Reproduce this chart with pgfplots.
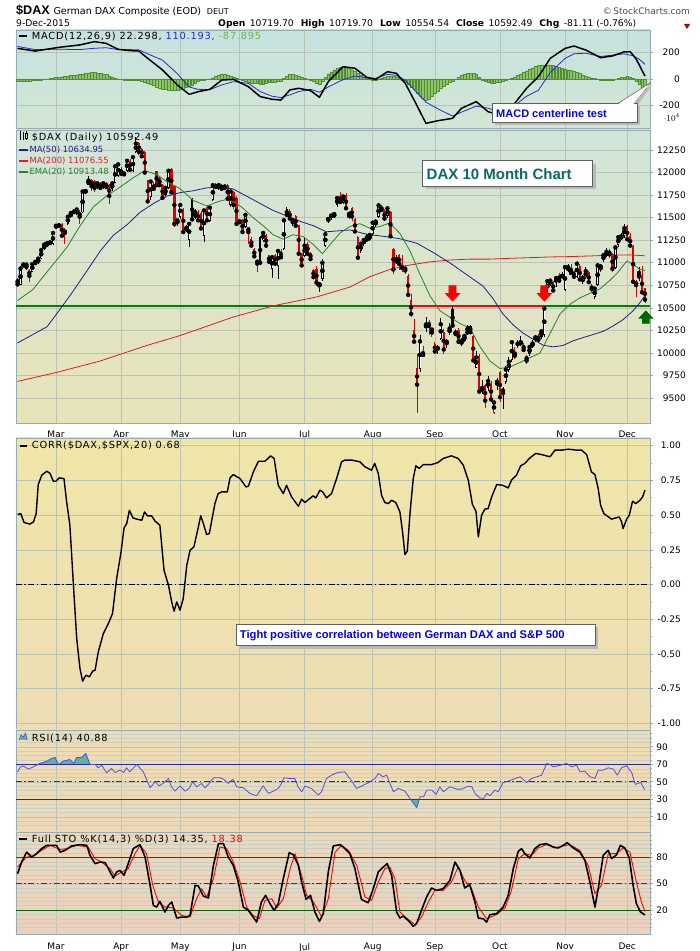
\documentclass[border=0pt]{standalone}
\usepackage{pgfplots}
\pgfplotsset{compat=1.18}
\usepackage{pgfplotstable}
\usepackage{fontspec}
\setmainfont{DejaVu Sans}
\newfontfamily\dvls{DejaVu Sans}[LetterSpace=8]
\newfontfamily\ar{Liberation Sans}

\definecolor{axisc}{RGB}{150,172,178}
\definecolor{gridc}{RGB}{186,195,180}
\definecolor{macdtop}{RGB}{198,226,224}
\definecolor{macdbot}{RGB}{210,230,212}
\definecolor{pricetop}{RGB}{208,229,218}
\definecolor{pricebot}{RGB}{233,228,184}
\definecolor{corrtop}{RGB}{240,230,168}
\definecolor{corrbot}{RGB}{237,221,180}
\definecolor{rsitop}{RGB}{238,221,180}
\definecolor{rsibot}{RGB}{237,217,184}
\definecolor{stotop}{RGB}{237,216,186}
\definecolor{stobot}{RGB}{234,210,190}
\definecolor{ma50}{RGB}{30,30,140}
\definecolor{ma200}{RGB}{225,30,30}
\definecolor{ema20}{RGB}{40,130,40}
\definecolor{candred}{RGB}{222,0,0}
\definecolor{histf}{RGB}{140,198,100}
\definecolor{histd}{RGB}{80,140,50}
\definecolor{histtxt}{RGB}{110,180,80}
\definecolor{sigblue}{RGB}{40,40,210}
\definecolor{rsiblue}{RGB}{80,80,225}
\definecolor{rsiline}{RGB}{40,40,170}
\definecolor{rsifill}{RGB}{100,175,160}
\definecolor{stogreen}{RGB}{0,100,0}
\definecolor{teal2}{RGB}{10,105,105}

\pgfplotsset{
  panel/.style={
    scale only axis, width=634pt, anchor=south west,
    xmin=-0.51, xmax=213.7,
    axis line style={draw=axisc, line width=0.8pt},
    xtick={13,35,55,75,97,120,141,163,185,206},
    xticklabels={},
    xtick style={draw=none},
    xmajorgrids, ymajorgrids,
    major grid style={gridc, line width=0.5pt},
    ytick pos=right, yticklabel pos=right,
    tick align=outside, major tick length=3pt, minor tick length=2pt,
    ytick style={draw=axisc, line width=0.6pt},
    ticklabel style={font=\fontsize{9}{10}\selectfont},
    yticklabel style={anchor=east, inner sep=0pt},
    every axis plot/.append style={line join=round},
  },
  monthlabels/.style={xticklabels={Mar,Apr,May,Jun,Jul,Aug,Sep,Oct,Nov,Dec},
    xticklabel style={anchor=north, inner sep=0pt, yshift=#1}},
  wick/.style={only marks, mark=none, error bars/.cd, y dir=both, y explicit, error mark=none,
    error bar style={#1, line width=0.8pt}},
  body/.style={only marks, mark=none, error bars/.cd, y dir=both, y explicit, error mark=none,
    error bar style={#1, line width=2.3pt}},
  inner/.style={only marks, mark=none, error bars/.cd, y dir=both, y explicit, error mark=none,
    error bar style={white, line width=0.9pt}},
  /pgfplots/table/wicktab/.style={x=d, y=C, y error plus expr={\thisrow{H}-\thisrow{C}+0.5}, y error minus expr={\thisrow{C}-\thisrow{L}+0.5}},
  /pgfplots/table/bodytab/.style={x=d, y expr={(\thisrow{O}+\thisrow{C})/2}, y error expr={abs(\thisrow{O}-\thisrow{C})/2+3}},
  /pgfplots/table/innertab/.style={x=d, y expr={(\thisrow{O}+\thisrow{C})/2}, y error expr={max(abs(\thisrow{O}-\thisrow{C})/2-7,0.5)}},
}

% hollow up candles (close above open)
\pgfplotstableread{
d O H L C
1 10760 10960 10750 10935
3 10935 10995 10925 10980
5 10905 11000 10895 10985
6 10985 11030 10975 11010
7 11000 11060 10990 11045
8 11050 11150 11040 11140
9 11150 11230 11140 11200
10 11190 11240 11180 11215
11 11215 11245 11200 11225
12 11210 11345 11200 11330
13 11395 11430 11380 11410
14 11405 11440 11395 11415
17 11430 11530 11420 11510
18 11510 11570 11500 11550
19 11560 11590 11540 11565
20 11545 11605 11530 11590
22 11560 11800 11550 11790
23 11785 11810 11770 11795
24 11870 11960 11860 11910
27 11830 11900 11820 11880
29 11830 11895 11820 11880
32 11820 11895 11800 11880
33 11890 12080 11880 12070
34 11965 12100 11950 12090
37 12020 12145 12010 12130
39 12020 12180 12010 12170
40 12230 12390 12220 12320
45 11730 11910 11700 11900
50 11750 11840 11740 11830
51 11830 12030 11820 12020
54 11430 11480 11410 11470
55 11510 11660 11480 11640
58 11260 11440 11170 11430
60 11500 11590 11480 11560
63 11300 11600 11230 11580
65 11470 11620 11450 11610
66 11700 11870 11690 11860
68 11820 11880 11810 11860
72 11640 11800 11620 11790
77 11400 11540 11380 11530
83 11250 11350 11230 11330
86 10930 11080 10830 11060
88 10970 11140 10820 11130
90 11160 11490 11140 11470
93 11430 11500 11410 11470
97 11080 11280 11060 11190
102 10740 10790 10680 10760
103 10820 11040 10800 11000
104 11190 11340 11170 11316
105 11470 11500 11440 11485
107 11510 11560 11500 11539
108 11640 11730 11620 11717
110 11670 11750 11650 11735
116 11130 11230 11110 11211
117 11210 11270 11190 11250
119 11260 11330 11240 11308
120 11320 11460 11300 11444
121 11420 11480 11400 11456
122 11510 11660 11500 11636
125 11520 11620 11500 11604
136 9830 10200 9790 10128
138 10280 10400 10230 10315
143 10160 10390 10140 10318
146 10220 10330 10200 10271
150 10100 10160 10080 10131
151 10140 10200 10120 10188
155 9840 10020 9830 9950
157 9580 9700 9550 9612
159 9610 9740 9580 9688
165 9680 9850 9660 9815
166 9810 9950 9790 9902
167 9920 10140 9900 10119
170 10100 10190 10080 10118
173 9990 10080 9970 10065
174 10080 10140 10060 10104
177 10180 10260 10160 10238
178 10200 10510 10180 10492
179 10680 10810 10660 10795
180 10760 10830 10740 10801
182 10780 10840 10730 10831
185 10700 10960 10690 10951
186 10920 10980 10900 10951
189 10850 11020 10830 10988
191 10790 10860 10770 10833
192 10840 10950 10820 10907
195 10620 10730 10600 10713
196 10760 10980 10740 10971
198 11030 11110 11010 11085
199 11080 11160 11060 11120
202 10950 11180 10930 11170
203 11200 11300 11180 11284
204 11270 11330 11250 11293
205 11300 11430 11280 11382
210 10820 10950 10800 10886
}\candW

% filled black candles
\pgfplotstableread{
d O H L C
2 10990 11010 10950 10970
57 11400 11420 11340 11370
59 11700 11720 11470 11480
70 11860 11870 11810 11830
75 11470 11480 11430 11450
82 11280 11300 10980 11000
91 11590 11620 11510 11530
106 11530 11540 11470 11517
118 11300 11320 11230 11257
128 11060 11080 10990 11015
142 10060 10090 9990 10048
145 10140 10150 10060 10108
147 10480 10520 10280 10303
152 10300 10310 10200 10227
153 10300 10310 10210 10229
162 9700 9720 9590 9660
164 9610 9620 9380 9553
169 10110 10140 10050 10097
175 10180 10200 10120 10165
184 10860 10900 10820 10850
}\candB

% filled red candles
\pgfplotstableread{
d O H L C
0 10820 10830 10740 10760
4 10915 10930 10790 10855
15 11430 11445 11285 11300
16 11360 11380 11210 11330
21 11560 11580 11430 11510
25 11910 11930 11800 11850
26 11900 11920 11790 11830
28 11880 11900 11810 11830
30 11880 11895 11830 11840
31 11860 11870 11650 11740
35 12040 12060 11970 11985
36 12000 12010 11960 11980
38 12130 12150 12020 12030
41 12320 12340 12200 12230
42 12260 12270 12170 12180
43 12220 12240 11990 12000
44 11910 11920 11670 11680
46 11870 11900 11800 11820
47 12010 12020 11850 11860
48 11940 11960 11850 11860
49 11860 11870 11700 11720
52 12040 12050 11770 11780
53 11850 11860 11400 11430
56 11590 11610 11330 11340
61 11560 11580 11450 11470
62 11550 11570 11360 11380
64 11620 11640 11450 11470
67 11860 11880 11820 11840
69 11860 11870 11800 11820
71 11860 11870 11690 11710
73 11780 11800 11600 11640
74 11720 11740 11410 11430
76 11470 11480 11320 11340
78 11390 11400 11210 11340
79 11260 11280 11170 11190
80 11150 11160 11050 11070
81 11030 11040 10900 10990
84 11300 11320 11170 11190
85 11080 11090 10990 11010
87 11080 11100 10970 10990
89 11130 11150 11040 11060
92 11570 11600 11470 11490
94 11510 11530 11400 11410
95 11410 11420 11080 11100
96 11100 11110 10950 10970
98 11210 11230 11080 11100
99 11110 11120 11020 11040
100 10920 10930 10830 10840
101 10930 10960 10740 10780
109 11740 11780 11650 11673
111 11750 11770 11580 11604
112 11560 11570 11480 11520
113 11600 11620 11460 11512
114 11480 11500 11340 11347
115 11285 11300 11040 11056
123 11620 11640 11560 11585
124 11570 11590 11460 11490
126 11560 11570 11280 11293
127 11150 11160 10880 10925
129 11080 11100 10920 10985
130 10960 11090 10900 10940
131 10950 10970 10880 10915
132 10850 10870 10620 10644
133 10580 10650 10400 10432
134 10250 10370 10110 10124
135 9830 9990 9338 9648
139 10340 10360 10200 10298
141 10100 10120 9990 10016
144 10230 10260 9990 10038
148 10240 10260 10190 10210
149 10250 10280 10100 10123
154 10180 10200 9900 9916
156 9960 9990 9560 9571
158 9640 9660 9390 9470
160 9660 9690 9460 9484
163 9780 9800 9460 9509
171 10090 10110 10010 10032
172 9960 9980 9880 9915
176 10190 10210 10120 10147
181 10780 10800 10680 10692
183 10860 10880 10780 10801
187 10950 10990 10870 10887
188 10900 10910 10820 10845
190 10960 10980 10800 10815
193 10890 10910 10760 10783
194 10740 10760 10680 10708
200 11130 11150 11050 11092
201 11090 11110 10900 10933
206 11400 11420 11230 11261
207 11290 11330 11160 11190
208 11180 11200 10760 10789
209 10790 10810 10620 10752
211 10860 10960 10640 10673
212 10720 10720 10555 10592
}\candR

% hollow red candles
\pgfplotstableread{
d O H L C
137 9960 10080 9950 9997
140 10200 10270 10180 10259
161 9340 9480 9320 9450
168 9950 10060 9930 9993
197 10920 10990 10900 10959
}\candRH

\begin{document}
\begin{tikzpicture}[x=1pt,y=1pt]

% ---------------- MACD ----------------
\begin{axis}[panel, at={(16pt,823pt)}, height=98pt,
  ymin=-370, ymax=370, ytick={-200,0,200}, yticklabels={-200,0,200},
  yticklabel style={xshift=27pt},
  axis background/.style={top color=macdtop, bottom color=macdbot}]
\addplot[ybar, bar width=0.92, fill=histf, draw=histd, line width=0.3pt] coordinates {
(0,-15)(1,-16)(2,-16)(3,-15)(4,-14)(5,-12)(6,-11)(7,-8)(8,-5)(9,-2)(10,1)(11,4)(12,8)(13,11)(14,14)
(15,17)(16,20)(17,23)(18,26)(19,29)(20,32)(21,35)(22,39)(23,43)(24,46)(25,48)(26,50)(27,47)(28,43)(29,38)(30,33)
(31,25)(32,17)(33,9)(34,2)(35,-2)(36,-5)(37,-7)(38,-8)(39,-8)(40,-9)(41,-9)(42,-16)(43,-25)(44,-34)
(45,-42)(46,-50)(47,-58)(48,-66)(49,-74)(50,-78)(51,-81)(52,-83)(53,-85)(54,-85)(55,-80)(56,-73)(57,-65)(58,-56)
(59,-45)(60,-31)(61,-18)(62,-12)(63,-7)(64,-3)(65,2)(66,10)(67,19)(68,28)(69,37)(70,35)(71,30)(72,24)(73,17)
(74,9)(75,1)(76,-8)(77,-17)(78,-25)(79,-29)(80,-32)(81,-35)(82,-38)(83,-36)(84,-32)(85,-27)(86,-23)
(87,-21)(88,-20)(89,-19)(90,5)(91,22)(92,37)(93,34)(94,30)(95,25)(96,15)(97,5)(98,-3)(99,-10)
(100,-20)(101,-30)(102,-38)(103,-15)(104,12)(105,40)(106,55)(107,68)(108,80)(109,90)(110,98)
(111,92)(112,82)(113,70)(114,59)(115,45)(116,30)(117,15)(118,3)(119,-2)(120,-6)(121,-8)
(122,-4)(123,4)(124,12)(125,20)(126,21)(127,18)(128,15)(129,3)(130,-10)(131,-23)(132,-40)(133,-58)(134,-79)
(135,-105)(136,-128)(137,-148)(138,-160)(139,-150)(140,-130)(141,-110)(142,-90)(143,-70)(144,-52)(145,-38)(146,-26)(147,-17)
(148,-2)(149,14)(150,29)(151,38)(152,44)(153,46)(154,42)(155,34)(156,15)(157,-5)(158,-18)(159,-27)
(160,-30)(161,-28)(162,-25)(163,-22)(164,-17)(165,-10)(166,-3)(167,6)(168,16)(169,27)(170,38)(171,49)(172,60)
(173,72)(174,84)(175,95)(176,103)(177,106)(178,107)(179,107)(180,106)(181,101)(182,95)(183,89)(184,82)(185,76)
(186,70)(187,65)(188,59)(189,50)(190,41)(191,32)(192,24)(193,16)(194,9)(195,3)(196,-4)(197,-9)
(198,-10)(199,-9)(200,-8)(201,-6)(202,0)(203,6)(204,11)(205,15)(206,18)(207,16)(208,5)(209,-15)(210,-40)(211,-67)(212,-88)};
\addplot[sigblue, line width=0.8pt] coordinates {
(0,246)(6,222)(14,225)(21,222)(26,232)(30,236)(34,222)(38,222)(41,220)(44,190)(49,142)(54,40)(58,-60)(61,-78)(65,-80)(69,-45)(73,-20)(78,-33)(82,-95)(86,-130)(89,-140)(92,-120)(95,-95)(99,-78)(102,-100)(105,-60)(110,-5)(114,22)(118,10)(121,5)(125,35)(128,28)(131,-10)(134,-80)(138,-175)(142,-225)(147,-280)(150,-250)(155,-205)(159,-220)(163,-250)(168,-200)(172,-130)(176,-85)(180,50)(185,155)(188,190)(192,195)(197,170)(201,180)(205,190)(208,175)(210,150)(211,132)(212,110)};
\addplot[black, line width=1.5pt] coordinates {
(0,231)(6,211)(14,239)(21,257)(26,282)(30,269)(34,224)(38,214)(41,211)(44,156)(49,68)(54,-45)(58,-116)(61,-96)(65,-78)(69,-8)(73,-3)(78,-58)(82,-133)(86,-153)(89,-159)(92,-83)(95,-70)(99,-88)(102,-138)(105,-20)(110,93)(114,81)(118,13)(121,-3)(125,55)(128,43)(131,-33)(134,-159)(138,-335)(142,-315)(147,-297)(150,-221)(155,-171)(159,-247)(163,-272)(168,-184)(172,-70)(176,18)(180,156)(185,231)(188,249)(192,219)(197,161)(201,174)(205,205)(207,206)(208,180)(209,150)(210,110)(211,65)(212,22)};
\end{axis}

% ---------------- PRICE ----------------
\begin{axis}[panel, at={(16pt,528pt)}, height=293pt,
  ymin=9222.8, ymax=12471.8,
  ytick={9500,9750,10000,10250,10500,10750,11000,11250,11500,11750,12000,12250},
  yticklabels={9500,9750,10000,10250,10500,10750,11000,11250,11500,11750,12000,12250},
  yticklabel style={xshift=33pt},
  monthlabels=-4.5pt,
  axis background/.style={top color=pricetop, bottom color=pricebot}]
\addplot[green!50!black, line width=2pt] coordinates {(-0.51,10520) (213.7,10520)};
\addplot[red, line width=2pt] coordinates {(132.6,10520) (178,10520)};
\addplot[wick=black] table[wicktab] {\candW};
\addplot[wick=black] table[wicktab] {\candB};
\addplot[wick=candred] table[wicktab] {\candR};
\addplot[wick=candred] table[wicktab] {\candRH};
\addplot[body=black] table[bodytab] {\candW};
\addplot[inner] table[innertab] {\candW};
\addplot[body=candred] table[bodytab] {\candRH};
\addplot[inner] table[innertab] {\candRH};
\addplot[body=black] table[bodytab] {\candB};
\addplot[body=candred] table[bodytab] {\candR};
\addplot[ma200, line width=0.8pt] coordinates {
(0,9684)(13.2,9784)(28,9911)(43.6,10082)(55,10193)(72.8,10397)(86.4,10522)(101,10620)(112.3,10730)(119,10845)(125.8,10925)(132.6,10975)(139.4,11010)(146,11030)(152.9,11040)(159.6,11040)(166.4,11049)(173,11056)(180,11064)(186.7,11068)(193.4,11075)(200.2,11083)(207,11087)(212,11077)};
\addplot[ma50, line width=0.8pt] coordinates {
(0,10110)(5.2,10204)(10,10291)(14.3,10480)(18.8,10685)(23.4,10907)(28,11132)(32.4,11305)(37,11421)(41.4,11559)(46,11658)(50.4,11738)(55,11778)(59.4,11798)(64,11831)(68.4,11838)(72.8,11818)(77.4,11738)(81.9,11658)(86.4,11579)(90.9,11520)(95.4,11460)(100,11410)(104.4,11343)(109,11355)(112.3,11363)(118,11316)(123.6,11293)(129.2,11266)(134.9,11216)(140.5,11113)(146,11000)(151.7,10869)(157.3,10740)(160.7,10600)(164,10433)(167.5,10309)(170.8,10220)(174.2,10151)(177.6,10085)(181,10067)(184.3,10082)(187.7,10134)(191,10169)(194.5,10204)(197.9,10239)(201.2,10298)(204.6,10369)(208,10468)(210.3,10558)(212,10635)};
\addplot[ema20, line width=0.8pt] coordinates {
(0,10580)(5.2,10703)(12,10981)(16.7,11171)(21,11402)(25.6,11618)(30,11738)(34.6,11838)(39,11940)(43,12022)(47,11978)(50.5,11900)(55,11820)(59.4,11690)(64,11630)(68,11680)(70.5,11700)(73,11680)(76,11610)(79.6,11500)(83,11410)(86.4,11310)(89.8,11260)(93,11310)(96.5,11290)(100,11200)(103,11100)(105.6,11200)(109,11330)(112.3,11402)(115.7,11433)(119,11383)(122.5,11402)(125.8,11441)(129.2,11324)(132.6,11132)(136,10869)(139.4,10631)(142.7,10468)(146,10397)(149.5,10326)(152.9,10273)(156,10082)(159.6,9911)(163,9827)(166.4,9844)(169.8,9894)(173,9946)(176.5,9997)(180,10220)(183.3,10433)(186.7,10540)(190,10610)(193.4,10660)(196.8,10710)(200,10800)(202.5,10880)(205.9,11019)(208,10980)(210.3,10926)(212,10913)};
\coordinate (ar1) at (axis cs:147,10570);
\coordinate (ar2) at (axis cs:178,10570);
\coordinate (ga) at (axis cs:212.3,10470);
\end{axis}

% ---------------- CORR ----------------
\begin{axis}[panel, at={(16pt,221pt)}, height=292pt,
  ymin=-1.048, ymax=1.0555,
  ytick={-1,-0.75,-0.5,-0.25,0,0.25,0.5,0.75,1},
  yticklabels={-1.00,-0.75,-0.50,-0.25,0.00,0.25,0.50,0.75,1.00},
  minor ytick={-0.875,-0.625,-0.375,-0.125,0.125,0.375,0.625,0.875},
  yticklabel style={xshift=28pt},
  axis background/.style={top color=corrtop, bottom color=corrbot}]
\addplot[black, line width=0.8pt, dash pattern=on 6pt off 2.5pt on 1.5pt off 2.5pt] coordinates {(-0.51,0) (213.7,0)};
\addplot[black, line width=1.4pt] coordinates {
(0,0.504)(1.1,0.511)(2.2,0.447)(4.2,0.435)(5.4,0.451)(6.3,0.511)(7.0,0.72)(8.2,0.788)(9.9,0.816)(11,0.80)(12.1,0.744)(13,0.744)(14.1,0.768)(15.7,0.763)(16.6,0.595)(17.7,0.427)(18.9,-0.005)(20,-0.389)(21.1,-0.605)(22,-0.696)(23.1,-0.653)(24.3,-0.665)(25.4,-0.624)(26.2,-0.617)(27.3,-0.485)(29,-0.353)(30.7,-0.281)(32.1,-0.209)(33.5,0.043)(34.9,0.223)(36,0.408)(36.9,0.439)(37.8,0.535)(39,0.48)(40.3,0.471)(42,0.463)(42.9,0.523)(43.9,0.495)(45.3,0.495)(46.5,0.456)(48.1,0.427)(49.5,0.103)(51,-0.005)(52.1,-0.125)(52.9,-0.192)(53.8,-0.125)(54.9,-0.185)(56,-0.101)(57.2,0.139)(58.3,0.247)(59.6,0.271)(61.1,0.415)(61.9,0.495)(62.8,0.439)(63.9,0.36)(64.8,0.367)(66.7,0.583)(67.8,0.655)(69,0.667)(70.9,0.667)(71.8,0.768)(72.9,0.792)(75.2,0.763)(77.2,0.703)(78,0.708)(79.7,0.812)(81.4,0.888)(83.6,0.888)(85.5,0.927)(86.7,0.908)(88.1,0.715)(89.8,0.655)(90.9,0.715)(92.6,0.631)(94.9,0.564)(96,0.615)(97.1,0.591)(99.9,0.639)(100.8,0.624)(102.2,0.68)(103.1,0.667)(104.4,0.624)(106.1,0.655)(107.8,0.763)(109.5,0.884)(110.6,0.896)(113,0.896)(115.7,0.884)(117.4,0.848)(119.6,0.824)(120.7,0.872)(121.9,0.80)(123,0.643)(124.1,0.591)(125.3,0.583)(126.4,0.607)(127.8,0.591)(129.2,0.523)(130.1,0.379)(130.9,0.216)(131.7,0.24)(132.6,0.511)(133.7,0.763)(134.6,0.855)(135.7,0.836)(137.1,0.864)(139.9,0.864)(142.1,0.879)(143.8,0.908)(146.6,0.927)(148.9,0.908)(150.6,0.86)(152.3,0.752)(153.7,0.576)(154.9,0.528)(155.7,0.343)(156.8,0.499)(157.9,0.543)(159,0.547)(160.2,0.631)(161.9,0.72)(163.9,0.715)(165.8,0.696)(166.9,0.752)(168.6,0.788)(170,0.855)(171.4,0.872)(173.1,0.912)(175.1,0.944)(177.1,0.936)(178.7,0.927)(179.9,0.92)(181.6,0.968)(183.8,0.968)(186.1,0.975)(188.9,0.968)(190.6,0.968)(192.3,0.936)(193.9,0.812)(195.1,0.792)(196.2,0.691)(197,0.571)(198.1,0.511)(200.7,0.471)(203.3,0.487)(204.1,0.451)(204.6,0.403)(205.8,0.471)(206.7,0.499)(207.8,0.60)(208.9,0.583)(210.3,0.607)(211.2,0.631)(212,0.68)};
\end{axis}

% ---------------- RSI ----------------
\begin{axis}[panel, at={(16pt,119pt)}, height=102pt,
  ymin=-7.4, ymax=109.2,
  ytick={10,30,50,70,90}, yticklabels={10,30,50,70,90},
  minor ytick={0,5,...,105}, yminorgrids,
  minor grid style={gridc!80, line width=0.3pt},
  yticklabel style={xshift=15pt},
  axis background/.style={top color=rsitop, bottom color=rsibot}]
\addplot[fill=rsifill, draw=none] coordinates {(7.0,70)(7.6,71)(9.9,73.6)(11.5,76.7)(12.7,77.8)(13.8,69.8)(15.5,73.6)(17.7,75.5)(19,71)(20,77.8)(21.7,77.8)(23.1,82.4)(24.48,70)(7.0,70)};
\addplot[fill=rsifill, draw=none] coordinates {(132.8,30)(134.9,20.3)(135.75,30)(132.8,30)};
\addplot[rsiline, line width=0.9pt] coordinates {(-0.51,70) (213.7,70)};
\addplot[rsiline, line width=0.9pt] coordinates {(-0.51,30) (213.7,30)};
\addplot[rsiline, line width=0.9pt, dash pattern=on 6pt off 2.5pt on 1.5pt off 2.5pt] coordinates {(-0.51,50) (213.7,50)};
\addplot[rsiblue, line width=0.8pt] coordinates {
(0,61.4)(1,67)(2,68)(3.7,64.5)(5.3,67)(7.6,71)(9.9,73.6)(11.5,76.7)(12.7,77.8)(13.8,69.8)(15.5,73.6)(17.7,75.5)(19,71)(20,77.8)(21.7,77.8)(23.1,82.4)(24.5,69.8)(26.2,69.8)(27.3,66)(28.4,69)(30.1,60.3)(31.8,65.2)(32.9,60.7)(34.6,63.3)(35.9,60.7)(36.8,66)(37.9,61.4)(40.3,69.8)(42.5,61.4)(44.8,43.1)(46.5,50)(47.9,45.4)(49.2,48.1)(51,53.8)(52,44.3)(53.2,39.3)(54.9,45.4)(56.6,39.3)(58,42.4)(59.2,50)(60.5,44.3)(62.2,48.1)(63.3,43.1)(64.5,47)(66.2,54.6)(68.4,54.6)(69.6,53)(71.2,48.1)(72.8,53)(74,44.3)(76.3,43.1)(78.5,36.7)(80.8,34)(83,45.4)(84.8,36.7)(86.4,39.3)(88.1,42.4)(89.2,48.1)(90,54.6)(92,53.8)(93.7,53.8)(94.8,44.3)(96,38.6)(97.1,45)(99.3,42.4)(101.6,34.8)(102.7,38.6)(104.4,53.8)(106.1,57.6)(108.3,60.7)(110.6,61.4)(111.8,55.7)(112.3,53.8)(114.6,42.4)(116.9,46.2)(119.1,50)(120.8,53.8)(121.9,59.5)(123.5,55.7)(124.7,57.6)(127,38.6)(128.7,42.4)(130.9,39.3)(132.6,31)(134.9,20.3)(136,32.9)(137.2,32.9)(138.3,40.5)(140,40.5)(141.4,35.5)(142.7,44.3)(143.9,38.6)(146.1,44.3)(148.4,41.6)(150.1,41.6)(152.3,45)(153.5,44.3)(154.6,36.7)(156.1,31.7)(157.5,31)(158.6,36.7)(159.6,34)(161.3,40.5)(162.4,38.6)(164.1,49.2)(165.8,50.8)(167.5,53)(169.8,55.7)(172,49.2)(173.7,53.8)(175.4,55.7)(177.1,57.6)(178.8,71)(179.9,69.8)(181,67.1)(182.7,68.3)(184.4,69.8)(185.5,71)(187.2,67.1)(188.9,69)(190,61.4)(191.7,62.2)(193.4,55.7)(195.1,53.8)(196.2,63.3)(197.9,63.3)(199.6,66)(201.3,64.5)(202.6,57.6)(204.1,66)(205.8,68.3)(207.5,60.7)(208.7,47)(210.6,49.2)(211.5,43.1)(212,40.9)};
\end{axis}

% ---------------- STO ----------------
\begin{axis}[panel, at={(16pt,17pt)}, height=102pt,
  ymin=-7.3, ymax=108.9,
  ytick={20,50,80}, yticklabels={20,50,80},
  minor ytick={0,5,...,105}, yminorgrids,
  minor grid style={gridc!80, line width=0.3pt},
  yticklabel style={xshift=15pt},
  monthlabels=-6pt,
  axis background/.style={top color=stotop, bottom color=stobot}]
\addplot[stogreen, line width=0.9pt] coordinates {(-0.51,80) (213.7,80)};
\addplot[stogreen, line width=0.9pt] coordinates {(-0.51,20) (213.7,20)};
\addplot[stogreen, line width=0.9pt, dash pattern=on 6pt off 2.5pt on 1.5pt off 2.5pt] coordinates {(-0.51,50) (213.7,50)};
\addplot[red, line width=0.9pt] coordinates {
(0,69)(3.1,80.4)(5.35,81.5)(8.16,88)(11,93.7)(14.4,89)(16.6,90)(20,93.7)(23.9,91.8)(26.2,78.5)(28.4,74.7)(31.3,67.1)(32.9,58.7)(35.2,63.3)(37.4,67.1)(39.7,84.2)(41.4,93.7)(43.6,84.2)(45.7,48.1)(47.6,29.1)(49.8,23.4)(52.6,22.3)(55.5,13.9)(58.3,12)(60.5,32.9)(62.2,44.3)(63.9,34.8)(66.2,55.7)(68.4,91.8)(70.7,90)(72.9,74.7)(75.2,51.9)(77.4,23.4)(79.6,13.9)(81.7,10.1)(83.6,31)(85.9,32.9)(87.6,22.3)(89.8,32.9)(92.1,67.1)(93.8,84.2)(96,59.5)(97.7,36.7)(100,29.1)(102.8,12)(105,32.9)(107.3,86)(109.5,93.7)(111.8,88)(114.6,70.9)(117.4,34.8)(119.6,31)(121.9,51.9)(124.1,67.1)(125.8,69)(127.5,55.7)(129.2,17.7)(131.4,10.9)(134.3,3.3)(136.5,12)(138.8,29.1)(141,42.4)(143.8,42.4)(146.6,51.9)(148.9,69)(151.1,53.8)(153.4,44.3)(155.7,23.4)(158.5,10.1)(161.8,14.7)(164.7,22.3)(166.9,42.4)(169.2,78.5)(171.4,84.2)(173.7,82.3)(175.9,90.7)(178.7,94.5)(181.6,90.7)(184.4,93)(186.6,94.5)(190,88)(192.8,70.9)(195.1,38.6)(197.3,48.1)(199.6,84.2)(202.4,84.2)(204.6,90.7)(206.9,86)(209.1,51.9)(210.8,29.1)(212,18.38)};
\addplot[black, line width=1.6pt] coordinates {
(0,61.4)(1.41,74.7)(3.1,86)(4.79,80.4)(6.48,84.2)(8.16,90)(9.85,93.7)(12.1,93.7)(13.2,93.7)(14.4,86)(16.1,88)(18.3,93)(21.1,94.5)(23.4,93.7)(24.5,82.3)(26.2,72.8)(27.9,74.7)(29.6,74)(31.3,63.3)(32.4,56.5)(33.5,63.3)(34.6,65.2)(36,59.5)(37.4,72.8)(39.1,90)(41.4,94.5)(43.1,80.4)(44.8,48.1)(45.9,25.3)(47,23.4)(48.1,29.9)(49.8,17.7)(51,25.3)(52.1,29.1)(53.8,10.9)(55.5,12)(57.2,12)(58.3,13.9)(60,48.1)(61.1,47.3)(62.8,35.9)(64.5,33.7)(66.2,70.9)(67.9,95.6)(69.6,95.6)(71.2,80.4)(72.9,70.9)(74.6,51.9)(76.3,23.4)(78,19.6)(79.6,12)(80.8,6.3)(82.4,29.1)(83.8,36.7)(85.3,27.2)(86.7,19.6)(88.1,27.2)(89.8,55.7)(91.8,85.3)(93.2,83)(94.9,70.9)(96,51.9)(97.5,32.1)(99,36.7)(100.5,17.7)(102,7.1)(103.3,15.8)(105,63.3)(106.7,93)(109,94.5)(110.6,90)(112.3,84.2)(114,67.1)(116.2,32.1)(118.5,28.3)(120.2,44.3)(121.9,63.3)(123.6,69)(124.9,72.8)(126.4,59.5)(128.1,17.7)(129.2,10.9)(130.3,13.1)(132,8.2)(133.7,1.5)(134.8,4.4)(136.5,19.6)(138.2,34.8)(139.9,45.1)(141.6,42.4)(143.8,44.3)(146.1,53.8)(147.8,74.7)(149.5,65.2)(151.1,45.1)(152.8,48.9)(154.5,29.9)(155.7,10.9)(157.3,10.1)(158.5,6.3)(159.6,14.7)(161.8,15.8)(164.1,23.4)(165.8,36.7)(167.5,67.1)(169.2,86.9)(170.3,90)(171.4,84.2)(173.1,79.3)(174.8,90)(176.5,94.5)(178.7,95.6)(179.9,93.7)(181,91.8)(182.7,90.7)(184.4,93.7)(185.7,96.7)(187.8,90.7)(190,86)(191.7,76.6)(193.4,51.9)(195.1,23.4)(196.2,44.3)(197.9,82.3)(199.6,88)(200.7,78.5)(202.4,83)(203.7,93.7)(205.2,90.7)(206.7,79.3)(208,48.1)(209.1,27.2)(210.5,17.7)(212,14.35)};
\end{axis}

% ---------------- annotations ----------------
\begin{scope}[shift={(1.5,-1.5)}]
\fill[gray!60] (ar1) -- ++(-7.8,8.3) -- ++(3.9,0) -- ++(0,7.7) -- ++(7.8,0) -- ++(0,-7.7) -- ++(3.9,0) -- cycle;
\fill[gray!60] (ar2) -- ++(-7.8,8.3) -- ++(3.9,0) -- ++(0,7.7) -- ++(7.8,0) -- ++(0,-7.7) -- ++(3.9,0) -- cycle;
\fill[gray!60] (ga) -- ++(-7.6,-8) -- ++(3.8,0) -- ++(0,-5) -- ++(7.6,0) -- ++(0,5) -- ++(3.8,0) -- cycle;
\end{scope}
\fill[red] (ar1) -- ++(-7.8,8.3) -- ++(3.9,0) -- ++(0,7.7) -- ++(7.8,0) -- ++(0,-7.7) -- ++(3.9,0) -- cycle;
\fill[red] (ar2) -- ++(-7.8,8.3) -- ++(3.9,0) -- ++(0,7.7) -- ++(7.8,0) -- ++(0,-7.7) -- ++(3.9,0) -- cycle;
\fill[green!40!black] (ga) -- ++(-7.6,-8) -- ++(3.8,0) -- ++(0,-5) -- ++(7.6,0) -- ++(0,5) -- ++(3.8,0) -- cycle;

\fill[gray!55] (425.7,762) rectangle (595.7,787.3);
\draw[gray!75!black, fill=white, line width=0.6pt] (422.7,765) rectangle (592.7,790.3);
\node[anchor=base west, inner sep=0pt, font=\ar\bfseries\fontsize{15}{17}\selectfont, text=teal2] at (426.5,771) {DAX 10 Month Chart};

\fill[gray!55] (239.7,302.3) rectangle (598,323.7);
\draw[gray!75!black, fill=white, line width=0.6pt] (236.7,305.3) rectangle (595,326.7);
\node[anchor=base west, inner sep=0pt, font=\ar\bfseries\fontsize{11.2}{13}\selectfont, text=blue] at (239.7,312) {Tight positive correlation between German DAX and S\&P 500};

\fill[gray!55] (495,826) rectangle (640,845);
\fill[gray!55] (620,845) -- (652,866) -- (637,845) -- cycle;
\draw[gray!75!black, fill=white, line width=0.6pt] (618,847.5) -- (650,868) -- (634,847.5);
\draw[gray!75!black, fill=white, line width=0.6pt] (492,829) rectangle (637,848);
\fill[white] (618.6,847) -- (649,866.5) -- (633.4,847) -- cycle;
\node[anchor=base west, inner sep=0pt, font=\ar\bfseries\fontsize{11}{13}\selectfont, text=blue] at (496,833.5) {MACD centerline test};

% ---------------- header ----------------
\node[anchor=base west, inner sep=0pt, font=\ar\bfseries\fontsize{12.6}{14}\selectfont] at (16,936) {\$DAX};
\node[anchor=base west, inner sep=0pt, font=\fontsize{9.6}{11}\selectfont] at (53.3,936.3) {German DAX Composite (EOD)};
\node[anchor=base west, inner sep=0pt, font=\fontsize{8}{9}\selectfont] at (206.7,936.5) {DEUT};
\node[anchor=base east, inner sep=0pt, font=\fontsize{9}{10}\selectfont, text=black!70] at (690,936.5) {\textcopyright\,StockCharts.com};
\node[anchor=base west, inner sep=0pt, font=\fontsize{9.2}{10}\selectfont] at (16,924.3) {9-Dec-2015};
\node[anchor=base west, inner sep=0pt, font=\fontsize{9.2}{10}\selectfont] at (218,924.3) {\textbf{Open}\, 10719.70\;\, \textbf{High}\, 10719.70\;\, \textbf{Low}\, 10554.54\;\, \textbf{Close}\, 10592.49\;\, \textbf{Chg}\, -81.11 (-0.76\%)};
\fill[candred!80!black] (684,927) -- (690,927) -- (687,922) -- cycle;

\draw[black, line width=2pt] (19.3,915) -- (26.7,915);
\node[anchor=base west, inner sep=0pt, font=\dvls\fontsize{9.8}{11}\selectfont] at (31.7,911.7) {MACD(12,26,9) 22.298, \textcolor{sigblue}{110.193,} \textcolor{histtxt}{-87.895}};

\fill[black] (19.5,812) rectangle (21,818);
\draw[black, line width=0.5pt] (20.25,810.5) -- (20.25,819.5);
\fill[black] (22.5,813) rectangle (24,817);
\draw[black, line width=0.5pt] (23.25,811) -- (23.25,819);
\draw[black, line width=0.6pt] (25.6,812.5) rectangle (27,817.5);
\draw[black, line width=0.5pt] (26.3,811) -- (26.3,812.5) (26.3,817.5) -- (26.3,819.5);
\node[anchor=base west, inner sep=0pt, font=\dvls\fontsize{9.8}{11}\selectfont] at (31.7,810.7) {\$DAX (Daily) 10592.49};
\draw[ma50, line width=1.8pt] (19.3,801) -- (28,801);
\node[anchor=base west, inner sep=0pt, font=\fontsize{8.5}{10}\selectfont, text=ma50] at (29.3,798) {MA(50) 10634.95};
\draw[ma200, line width=1.8pt] (19.3,790) -- (28,790);
\node[anchor=base west, inner sep=0pt, font=\fontsize{8.5}{10}\selectfont, text=ma200] at (29.3,787) {MA(200) 11076.55};
\draw[ema20, line width=1.8pt] (19.3,779.3) -- (28,779.3);
\node[anchor=base west, inner sep=0pt, font=\fontsize{8.5}{10}\selectfont, text=ema20] at (29.3,776.3) {EMA(20) 10913.48};

\draw[black, line width=2pt] (20,505.3) -- (27.3,505.3);
\node[anchor=base west, inner sep=0pt, font=\dvls\fontsize{9.8}{11}\selectfont] at (31.7,502) {CORR(\$DAX,\$SPX,20) 0.68};

\fill[rsifill] (19.3,211) -- (21,216.5) -- (23,213.5) -- (25.5,218) -- (27.3,211) -- cycle;
\draw[rsiblue, line width=0.6pt] (19.3,211) -- (21,216.5) -- (23,213.5) -- (25.5,218) -- (27.3,211);
\node[anchor=base west, inner sep=0pt, font=\dvls\fontsize{9.8}{11}\selectfont] at (31.7,209.3) {RSI(14) 40.88};

\draw[black, line width=2pt] (19.3,112) -- (26.7,112);
\node[anchor=base west, inner sep=0pt, font=\dvls\fontsize{9.8}{11}\selectfont] at (31.7,108) {Full STO \%K(14,3) \%D(3) 14.35, \textcolor{red}{18.38}};

\pgfresetboundingbox
\path[use as bounding box] (0,0) rectangle (700,951);
\end{tikzpicture}
\end{document}
